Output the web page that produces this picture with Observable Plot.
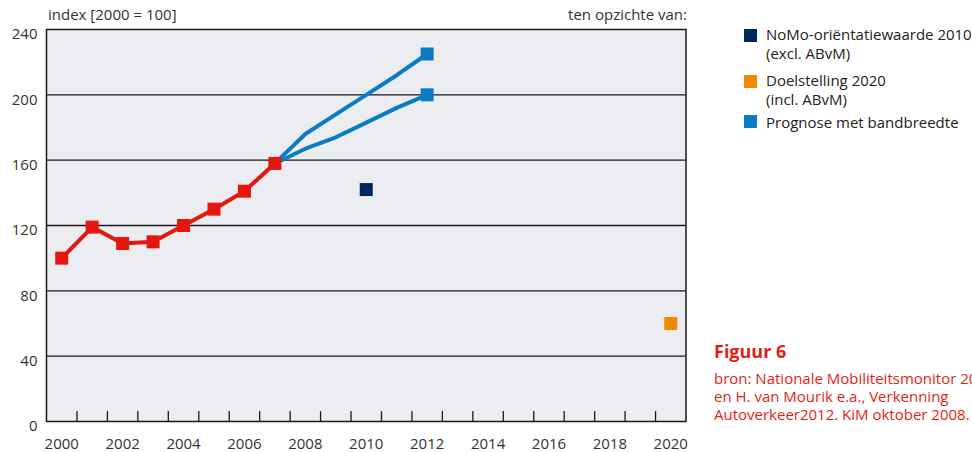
<!DOCTYPE html>
<html>
<head>
<meta charset="utf-8">
<script src="https://cdn.jsdelivr.net/npm/d3@7"></script>
<script src="https://cdn.jsdelivr.net/npm/@observablehq/plot@0.6"></script>
<style>
  html, body { margin: 0; padding: 0; background: #fff; }
  body { font-family: "Open Sans", sans-serif; width: 972px; height: 452px; overflow: hidden; position: relative; }
  #chart { position: absolute; left: 0; top: 0; }
  .lbl { position: absolute; font-size: 15px; color: #333; white-space: nowrap; line-height: 19px; }
  .leg { position: absolute; left: 744px; width: 13px; height: 13px; }
  .fig { position: absolute; left: 714px; color: #e41e14; white-space: nowrap; }
</style>
</head>
<body>
<div id="chart"></div>
<script>
// ---- data ----
const obsYears = [2000, 2001, 2002, 2003, 2004, 2005, 2006, 2007];
const obsValues = [100, 119, 109, 110, 120, 130, 141, 158];
const progYears = [2007, 2008, 2009, 2010, 2011, 2012];
const progHigh = [158, 176, 188, 200, 212, 225];
const progLow = [158, 167, 174, 183, 192, 200];
const nomoYear = [2010];
const nomoValue = [142];
const doelYear = [2020];
const doelValue = [60];
const yTicks = [0, 40, 80, 120, 160, 200, 240];
const gridValues = [40, 80, 120, 160, 200];
const xTickLabels = [2000, 2002, 2004, 2006, 2008, 2010, 2012, 2014, 2016, 2018, 2020];
const xTickMarks = d3.range(2000.5, 2020, 1);
const legendLabels = ["NoMo-oriëntatiewaarde 2010", "(excl. ABvM)", "Doelstelling 2020", "(incl. ABvM)", "Prognose met bandbreedte"];

const colors = { obs: "#e5160d", prog: "#0a7bc4", nomo: "#00285f", doel: "#f08a00" };

const obs = obsYears.map((x, i) => ({x, y: obsValues[i]}));
const high = progYears.map((x, i) => ({x, y: progHigh[i]}));
const low = progYears.map((x, i) => ({x, y: progLow[i]}));
const progEnds = [high[high.length - 1], low[low.length - 1]];
const nomo = nomoYear.map((x, i) => ({x, y: nomoValue[i]}));
const doel = doelYear.map((x, i) => ({x, y: doelValue[i]}));

const sq = 13 / Math.sqrt(Math.PI);

const chart = Plot.plot({
  width: 700,
  height: 452,
  marginLeft: 46,
  marginRight: 14.5,
  marginTop: 29,
  marginBottom: 31,
  style: { fontFamily: "Open Sans, sans-serif", fontSize: "15px", color: "#333", background: "transparent" },
  x: { domain: [1999.5, 2020.5] },
  y: { domain: [0, 240] },
  marks: [
    Plot.frame({ fill: "#ecedf0" }),
    Plot.ruleY(gridValues, { stroke: "#1a1a1a", strokeWidth: 1.3 }),
    Plot.ruleX(xTickMarks, { y1: 0, y2: 6.1, stroke: "#1a1a1a", strokeWidth: 1.3 }),
    Plot.frame({ stroke: "#1a1a1a", strokeWidth: 1.5 }),
    Plot.axisY({ ticks: yTicks, tickSize: 0, tickPadding: 9, dy: 5, fontSize: 15, fill: "#333", label: null }),
    Plot.axisX({ ticks: xTickLabels, tickSize: 0, tickPadding: 17, tickFormat: d => String(d), fontSize: 15, fill: "#333", label: null }),
    Plot.line(high, { x: "x", y: "y", stroke: colors.prog, strokeWidth: 4 }),
    Plot.line(low, { x: "x", y: "y", stroke: colors.prog, strokeWidth: 4 }),
    Plot.line(obs, { x: "x", y: "y", stroke: colors.obs, strokeWidth: 4 }),
    Plot.dot(obs, { x: "x", y: "y", symbol: "square", r: sq, fill: colors.obs, stroke: "none" }),
    Plot.dot(progEnds, { x: "x", y: "y", symbol: "square", r: sq, fill: colors.prog, stroke: "none" }),
    Plot.dot(nomo, { x: "x", y: "y", symbol: "square", r: sq, fill: colors.nomo, stroke: "none" }),
    Plot.dot(doel, { x: "x", y: "y", symbol: "square", r: sq, fill: colors.doel, stroke: "none" })
  ]
});
document.getElementById("chart").appendChild(chart);

function addDiv(cls, text, styles) {
  const d = document.createElement("div");
  d.className = cls;
  if (text != null) d.textContent = text;
  Object.assign(d.style, styles);
  document.body.appendChild(d);
  return d;
}

// axis captions
addDiv("lbl", "index [2000 = 100]", { left: "48px", top: "5px" });
addDiv("lbl", "ten opzichte van:", { right: "285px", top: "5px" });

// legend
addDiv("leg", null, { top: "29px", background: colors.nomo });
addDiv("leg", null, { top: "75px", background: colors.doel });
addDiv("leg", null, { top: "115px", background: colors.prog });
const legTops = [25, 44, 71, 90, 113];
legendLabels.forEach((t, i) => addDiv("lbl", t, { left: "766px", top: legTops[i] + "px", color: "#222" }));

// figure caption
addDiv("fig", "Figuur 6", { top: "339px", fontSize: "18px", fontWeight: "bold", lineHeight: "24px" });
const src = addDiv("fig", null, { top: "369px", fontSize: "15px", lineHeight: "18px" });
src.innerHTML = "bron: Nationale Mobiliteitsmonitor 2008<br>en H. van Mourik e.a., Verkenning<br>Autoverkeer2012. KiM oktober 2008.";
</script>
</body>
</html>
